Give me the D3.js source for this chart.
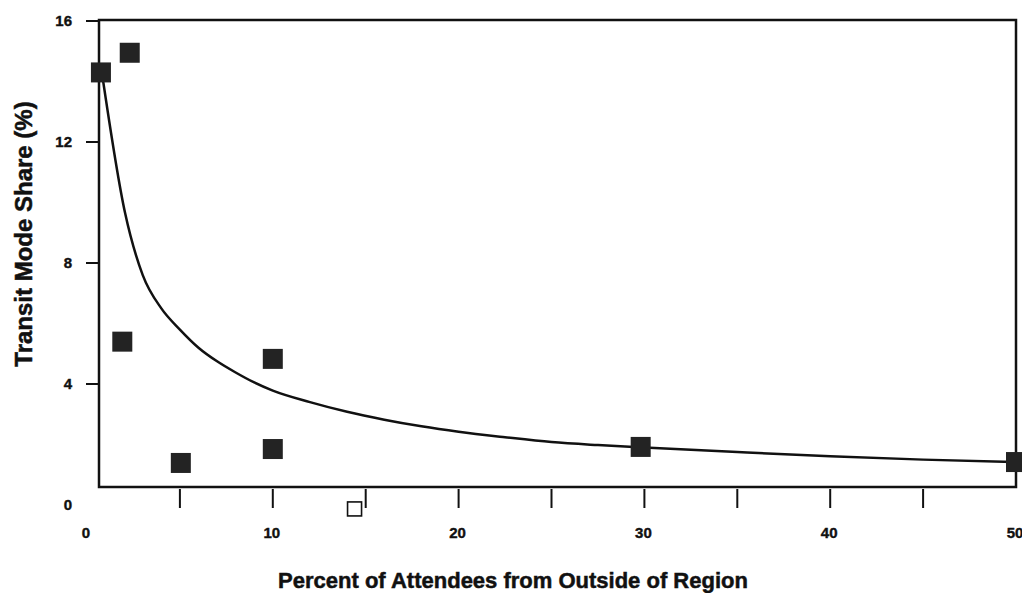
<!DOCTYPE html>
<html>
<head>
<meta charset="utf-8">
<script src="https://cdn.jsdelivr.net/npm/d3@7/dist/d3.min.js"></script>
<style>
  html, body { margin: 0; padding: 0; background: #fff; }
  svg { display: block; }
  text { font-family: "Liberation Sans", Arial, Helvetica, sans-serif; font-weight: bold; fill: #111; }
</style>
</head>
<body>
<svg id="chart" width="1022" height="593"></svg>
<script>
// ---- data ----
const xTickLabels = [0, 10, 20, 30, 40, 50];
const xTickMarks = [5, 10, 15, 20, 25, 30, 35, 40, 45];
const yTickLabels = [0, 4, 8, 12, 16];
const yTickMarks = [4, 8, 12, 16];

// observed events (filled squares)
const obsX = [0.75, 2.3, 1.9, 10.0, 5.05, 10.0, 29.8, 50.0];
const obsY = [14.3, 14.95, 5.4, 4.83, 1.39, 1.85, 1.92, 1.42];

// open square (outlier)
const openX = [14.4];
const openY = [-0.13];

// fitted curve
const curveX = [0.8, 2.05, 3, 4, 5, 6, 7, 8, 9, 10, 12, 14, 16, 18, 20, 22.5, 25, 27.5, 30, 35, 40, 45, 50];
const curveY = [14.3, 9.65, 7.6, 6.5, 5.8, 5.2, 4.75, 4.38, 4.05, 3.78, 3.4, 3.08, 2.82, 2.6, 2.42, 2.24, 2.08, 1.98, 1.9, 1.75, 1.61, 1.5, 1.42];

const xTitle = "Percent of Attendees from Outside of Region";
const yTitle = "Transit Mode Share (%)";

// ---- layout ----
const svg = d3.select("#chart");
const box = { left: 99, right: 1016, top: 20, bottom: 487 };

const x = d3.scaleLinear().domain([0, 50]).range([87, 1016]);
const y = d3.scaleLinear().domain([0, 16]).range([505, 21]);

// plot frame
svg.append("rect")
  .attr("x", box.left).attr("y", box.top)
  .attr("width", box.right - box.left).attr("height", box.bottom - box.top)
  .attr("fill", "none").attr("stroke", "#111").attr("stroke-width", 2.5);

// x tick marks below the frame
svg.append("g").selectAll("line").data(xTickMarks).join("line")
  .attr("x1", d => x(d)).attr("x2", d => x(d))
  .attr("y1", box.bottom + 2).attr("y2", box.bottom + 21)
  .attr("stroke", "#111").attr("stroke-width", 2);

// y tick marks left of the frame
svg.append("g").selectAll("line").data(yTickMarks).join("line")
  .attr("x1", box.left - 13).attr("x2", box.left)
  .attr("y1", d => y(d)).attr("y2", d => y(d))
  .attr("stroke", "#111").attr("stroke-width", 2);

// x tick labels
svg.append("g").selectAll("text").data(xTickLabels).join("text")
  .attr("x", d => x(d) - 1).attr("y", 538)
  .attr("text-anchor", "middle").attr("font-size", 15)
  .attr("stroke", "#111").attr("stroke-width", 0.4)
  .text(d => d);

// y tick labels
svg.append("g").selectAll("text").data(yTickLabels).join("text")
  .attr("x", 72).attr("y", d => y(d) + 5)
  .attr("text-anchor", "end").attr("font-size", 15)
  .attr("stroke", "#111").attr("stroke-width", 0.4)
  .text(d => d);

// fitted curve
const curvePts = curveX.map((d, i) => [d, curveY[i]]);
svg.append("path")
  .datum(curvePts)
  .attr("d", d3.line().x(d => x(d[0])).y(d => y(d[1])).curve(d3.curveMonotoneX))
  .attr("fill", "none").attr("stroke", "#111").attr("stroke-width", 2.5)
  .attr("stroke-linejoin", "round");

// filled squares
const s = 20;
svg.append("g").selectAll("rect").data(obsX.map((d, i) => [d, obsY[i]])).join("rect")
  .attr("x", d => x(d[0]) - s / 2).attr("y", d => y(d[1]) - s / 2)
  .attr("width", s).attr("height", s)
  .attr("fill", "#232323");

// open square
const so = 14;
svg.append("g").selectAll("rect").data(openX.map((d, i) => [d, openY[i]])).join("rect")
  .attr("x", d => x(d[0]) - so / 2).attr("y", d => y(d[1]) - so / 2)
  .attr("width", so).attr("height", so)
  .attr("fill", "#fff").attr("stroke", "#111").attr("stroke-width", 1.6);

// axis titles
svg.append("text")
  .attr("x", 513).attr("y", 588)
  .attr("text-anchor", "middle").attr("font-size", 22)
  .attr("stroke", "#111").attr("stroke-width", 0.5)
  .text(xTitle);

svg.append("text")
  .attr("transform", "translate(32,234) rotate(-90)")
  .attr("text-anchor", "middle").attr("font-size", 24)
  .attr("stroke", "#111").attr("stroke-width", 0.5)
  .text(yTitle);
</script>
</body>
</html>
